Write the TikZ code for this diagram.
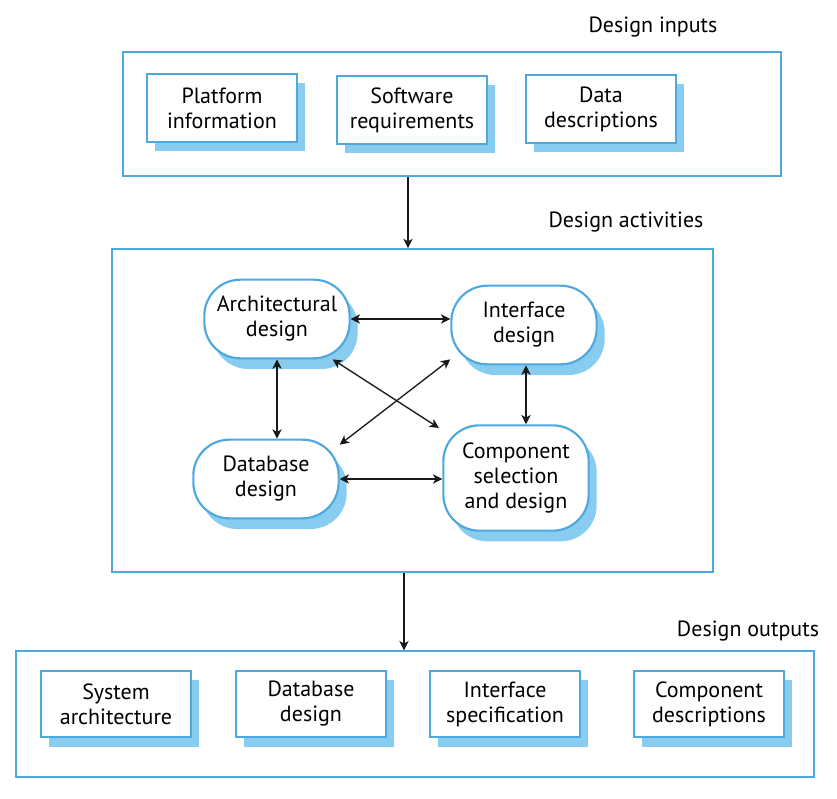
\documentclass[tikz,border=0pt]{standalone}
\usepackage{fontspec}
\setmainfont{PT Sans}
\usetikzlibrary{arrows.meta,positioning,shadows,shapes.misc}
\definecolor{boxblue}{RGB}{77,168,224}
\definecolor{shadeblue}{RGB}{136,204,240}
\tikzset{doc/.style={
                     % The shape:
                     rectangle,minimum width=112pt,minimum height=51pt,
                     % The rest
                     line width=1.6pt,draw=boxblue,fill=white,align=center,
                     general shadow={fill=shadeblue,shadow xshift=6pt,shadow yshift=-7pt},
                     },
         activity/.style={
                     % The shape:
                     rectangle,rounded corners=27pt,minimum width=109pt,minimum height=59pt,
                     % The rest
                     line width=1.6pt,draw=boxblue,fill=white,align=center,
                     general shadow={fill=shadeblue,shadow xshift=6pt,shadow yshift=-8pt},
                     },
         group/.style={rectangle,line width=1.6pt,draw=boxblue},
         tip/.tip={Stealth[length=7pt,width=7pt,inset=2pt]},
         link/.style={tip-tip,line width=1pt,black!90},
         flow/.style={-tip,line width=1pt,black!90}}

\begin{document}
\begin{tikzpicture}[x=0.75pt,y=-0.75pt,
                    font=\fontsize{16.5}{18.75}\selectfont,text=black]
  \useasboundingbox (0,0) rectangle (837,798);

  % Inputs:
  \node (inputs) [group,minimum width=493pt,minimum height=93pt] at (452,114) {};
  \node (inlabel) at (653,27) {Design inputs};
  \node (platform) [doc] at (222,108) {Platform\\information};
  \node (software) [doc] at (412,110) {Software\\requirements};
  \node (data) [doc] at (601,109) {Data\\descriptions};

  % Activities:
  \node (activities) [group,minimum width=451pt,minimum height=242pt] at (412.5,410.5) {};
  \node (actlabel) at (626,222) {Design activities};
  \node (arch) [activity] at (277,319) {Architectural\\design};
  \node (intf) [activity] at (524,325) {Interface\\design};
  \node (db) [activity] at (266,479) {Database\\design};
  \node (comp) [activity,minimum height=79pt] at (516,478) {Component\\selection\\and design};

  % Outputs:
  \node (outputs) [group,minimum width=598pt,minimum height=94pt] at (415,714) {};
  \node (outlabel) at (748,631) {Design outputs};
  \node (sysarch) [doc,minimum height=50pt] at (116,704) {System\\architecture};
  \node (dbdesign) [doc,minimum height=50pt] at (311,704) {Database\\design};
  \node (ispec) [doc,minimum height=50pt] at (505,704) {Interface\\specification};
  \node (cdesc) [doc,minimum height=50pt] at (709,704) {Component\\descriptions};

  % Flow between the groups:
  \draw [flow] (inputs.south -| 408,0) -- (activities.north -| 408,0);
  \draw [flow] (activities.south -| 404,0) -- (outputs.north -| 404,0);

  % Links between the activities:
  \draw [link] (arch.east) -- (arch.east -| intf.west);
  \draw [link] (db.east) -- (db.east -| comp.west);
  \draw [link] (arch.south) -- (arch.south |- db.north);
  \draw [link] (intf.south -| 526,0) -- (comp.north -| 526,0);
  \draw [link,shorten >=3pt] (arch.324) -- (comp.147);
  \draw [link] (intf.205) -- (db.25);
\end{tikzpicture}
\end{document}
